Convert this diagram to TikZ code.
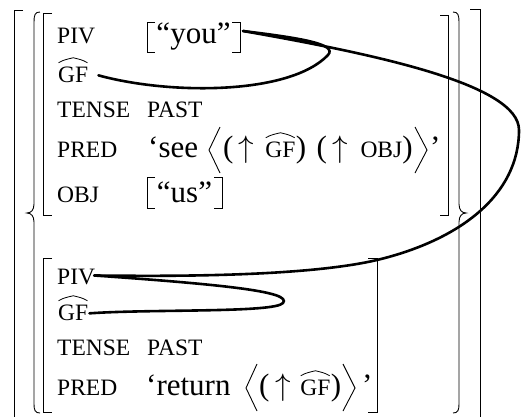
\RequirePackage{fix-cm}
\documentclass[tikz,border=0pt]{standalone}
\usepackage{fontspec}
\setmainfont{Liberation Serif}
\newcommand{\lsz}{\fontsize{23.5}{27}\selectfont}
\tikzset{
  lab/.style={anchor=base west, inner sep=0pt, font=\lsz},
  val/.style={anchor=base west, inner sep=0pt, font=\fontsize{31}{36}\selectfont},
  valc/.style={val, anchor=base},
  brk/.style={line width=0.9pt},
  hatarc/.style={line width=0.8pt},
  link/.style={line width=2.6pt, line cap=round},
  gfhat/.style={append after command={
    \pgfextra{\draw[hatarc] ([shift={(0.5pt,3.5pt)}]\tikzlastnode.north west)
      .. controls +(5pt,3pt) and +(-6pt,-1.5pt) .. ([yshift=8.5pt]\tikzlastnode.north)
      .. controls +(6pt,-1.5pt) and +(-5pt,3pt) .. ([shift={(-1pt,3.5pt)}]\tikzlastnode.north east);}}},
}
\begin{document}
\begin{tikzpicture}[x=1pt,y=-1pt]
\useasboundingbox (0,0) rectangle (522,416);
% outer brackets
\draw[brk] (23,10) -- (14,10) -- (14,420);
\draw[brk] (470,9) -- (480,9) -- (480,420);
% set braces
\draw[brk] (40,12) .. controls (35,12) and (34,15) .. (34,22) -- (34,204)
  .. controls (34,210) and (31,213) .. (27,213)
  .. controls (31,213) and (34,216) .. (34,222) -- (34,404)
  .. controls (34,410) and (35,413) .. (40,413);
\draw[brk] (453,12) .. controls (458,12) and (459,15) .. (459,22) -- (459,204)
  .. controls (459,210) and (462,213) .. (466,213)
  .. controls (462,213) and (459,216) .. (459,222) -- (459,404)
  .. controls (459,410) and (458,413) .. (453,413);
% f-structure brackets
\draw[brk] (52,13) -- (43,13) -- (43,215) -- (52,215);
\draw[brk] (440,15) -- (448,15) -- (448,215) -- (440,215);
\draw[brk] (52,258) -- (43,258) -- (43,412) -- (52,412);
\draw[brk] (368,258) -- (377,258) -- (377,412) -- (368,412);
% value brackets
\draw[brk] (155,22) -- (147,22) -- (147,52) -- (155,52);
\draw[brk] (232,22) -- (240,22) -- (240,52) -- (232,52);
\draw[brk] (155,177) -- (147,177) -- (147,208) -- (155,208);
\draw[brk] (214,177) -- (222,177) -- (222,208) -- (214,208);
% angle brackets
\draw[brk] (220,127) -- (209,150) -- (220,173);
\draw[brk] (415,127) -- (427,150) -- (415,173);
\draw[brk] (257,364) -- (246,388) -- (257,411);
\draw[brk] (343,364) -- (355,388) -- (343,411);
% first f-structure
\node[lab] (piv1) at (57,43) {PIV};
\node[valc] (you1) at (193.5,43) {“you”};
\node[lab, gfhat] (gf1) at (58,82) {GF};
\node[lab] (tense1) at (57,117) {TENSE};
\node[lab] (past1) at (147,117) {PAST};
\node[lab] (pred1) at (57,157) {PRED};
\node[val] (see1) at (148,157) {‘see};
\node[val] (arg1a) at (223,157) {(\kern5pt$\uparrow$\kern11pt};
\node[lab, gfhat] (gfa1) at (arg1a.base east) {GF};
\node[val] (arg1b) at (gfa1.base east) {)\kern10.5pt(\kern5pt$\uparrow$\kern13pt{\lsz OBJ})};
\node[val] (q1) at (430,157) {’};
\node[lab] (obj1) at (57,202) {OBJ};
\node[valc] (us1) at (184.5,202) {“us”};
% second f-structure
\node[lab] (piv2) at (57,284) {PIV};
\node[lab, gfhat] (gf2) at (58,320) {GF};
\node[lab] (tense2) at (57,355) {TENSE};
\node[lab] (past2) at (147,355) {PAST};
\node[lab] (pred2) at (57,395) {PRED};
\node[val] (ret2) at (146,395) {‘return};
\node[val] (arg2a) at (259,395) {(\kern6pt$\uparrow$\kern9pt};
\node[lab, gfhat] (gfa2) at (arg2a.base east) {GF};
\node[val] (arg2b) at (gfa2.base east) {)};
\node[val] (q2) at (362,395) {’};
% links
\coordinate (youR) at (243,31);
\draw[link] ([xshift=10pt,yshift=-1pt]gf1.east) .. controls (170,95) and (290,95) .. (328,55)
  .. controls (338,44) and (300,38) .. (youR);
\draw[link] (youR) .. controls (380,55) and (519,85) .. (519,130)
  .. controls (519,195) and (460,240) .. (377,260)
  .. controls (300,278) and (150,276) .. ([xshift=-1pt,yshift=1pt]piv2.east);
\draw[link] ([xshift=-1pt,yshift=1pt]piv2.east) .. controls (230,285) and (292,292) .. (283,303)
  .. controls (275,313) and (150,309) .. ([xshift=1pt,yshift=-1pt]gf2.east);
\end{tikzpicture}
\end{document}
